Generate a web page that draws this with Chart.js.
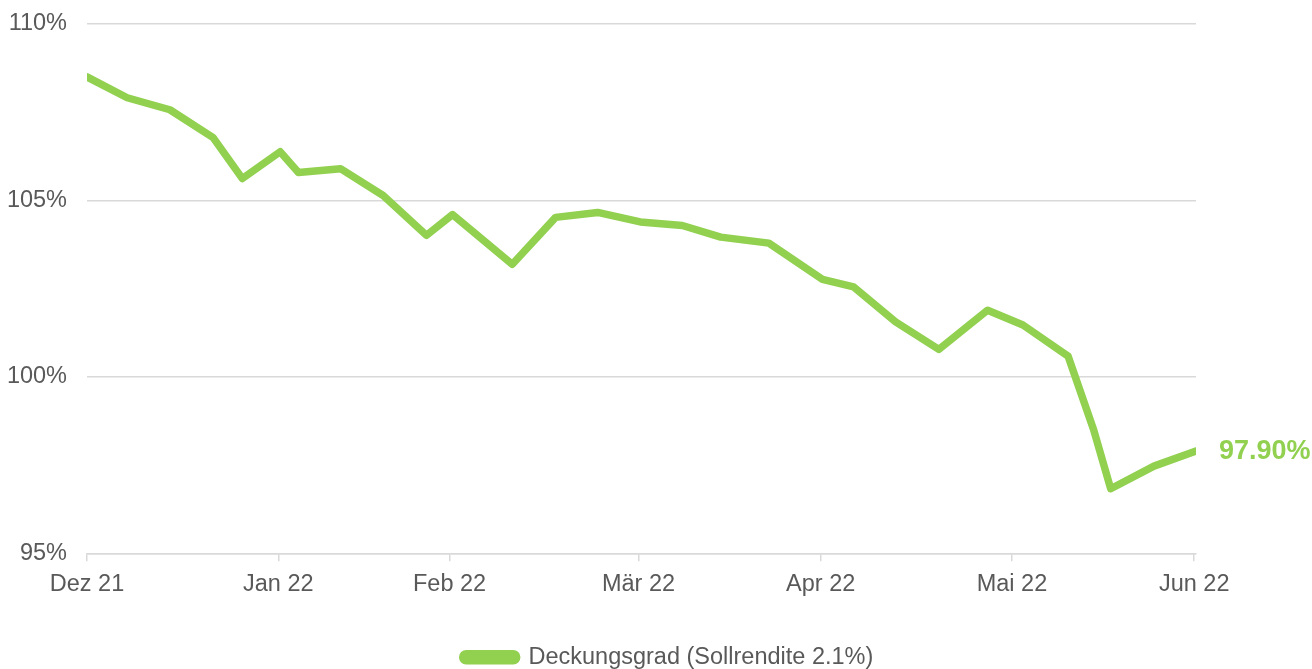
<!DOCTYPE html>
<html>
<head>
<meta charset="utf-8">
<script src="https://cdn.jsdelivr.net/npm/chart.js@4/dist/chart.umd.min.js"></script>
<style>
  html, body { margin: 0; padding: 0; background: #fff; overflow: hidden; }
  #wrap { width: 1312px; height: 679px; }
</style>
</head>
<body>
<div id="wrap"><canvas id="chart"></canvas></div>
<script>
// Day offsets from 1 Dec 2021
const days = [0, 6.6, 13.6, 20.7, 25.5, 31.7, 34.7, 41.6, 48.6, 55.7, 60, 69.8, 76.9, 83.8,
  90.8, 97.7, 104, 111.9, 120.7, 125.8, 132.7, 139.8, 147.8, 153.6, 161, 165.2, 168, 175.1, 182];
const coverage = [108.50, 107.91, 107.57, 106.78, 105.62, 106.38, 105.79, 105.90, 105.14, 104.01,
  104.60, 103.19, 104.52, 104.66, 104.39, 104.29, 103.96, 103.79, 102.76, 102.55, 101.56, 100.78,
  101.89, 101.47, 100.59, 98.50, 96.83, 97.47, 97.90];
const tickDays = [0, 31.4, 59.5, 90.5, 120.4, 151.8, 181.7];
const tickLabels = ['Dez 21', 'Jan 22', 'Feb 22', 'Mär 22', 'Apr 22', 'Mai 22', 'Jun 22'];
const yTicks = [95, 100, 105, 110];

const green = '#92D050';
const gray = '#595959';
const gridGray = '#d9d9d9';
const font = 'Liberation Sans, Arial, sans-serif';

// end-of-line value label
const endLabel = {
  id: 'endLabel',
  afterDatasetsDraw(chart) {
    const meta = chart.getDatasetMeta(0);
    const pt = meta.data[meta.data.length - 1];
    const ctx = chart.ctx;
    ctx.save();
    ctx.fillStyle = green;
    ctx.font = 'bold 27px ' + font;
    ctx.textAlign = 'left';
    ctx.textBaseline = 'middle';
    ctx.fillText(coverage[coverage.length - 1].toFixed(2) + '%', pt.x + 23, pt.y + 1);
    ctx.restore();
  }
};

new Chart(document.getElementById('chart'), {
  type: 'line',
  data: {
    datasets: [{
      label: 'Deckungsgrad (Sollrendite 2.1%)',
      data: days.map((d, i) => ({ x: d, y: coverage[i] })),
      borderColor: green,
      backgroundColor: green,
      borderWidth: 7.5,
      borderJoinStyle: 'round',
      borderCapStyle: 'round',
      pointRadius: 0,
      tension: 0
    }]
  },
  options: {
    responsive: true,
    maintainAspectRatio: false,
    animation: false,
    // negative right padding keeps the legend centred like the original
    layout: { padding: { top: 24, left: 0, right: -24, bottom: 0 } },
    plugins: {
      tooltip: { enabled: false },
      legend: {
        position: 'bottom',
        title: { display: true, text: '', font: { size: 10 }, padding: { top: 0, bottom: 16 } },
        labels: {
          color: gray,
          font: { family: font, size: 23.5 },
          boxWidth: 54,
          boxHeight: 7,
          useBorderRadius: true,
          borderRadius: 3.5,
          padding: 10
        }
      }
    },
    scales: {
      x: {
        type: 'linear',
        min: 0,
        max: 182,
        afterBuildTicks: s => { s.ticks = tickDays.map(v => ({ value: v })); },
        afterFit: s => { s.paddingLeft = 0; s.paddingRight = 0; },
        ticks: {
          color: gray,
          font: { family: font, size: 23.5 },
          padding: 9,
          maxRotation: 0,
          autoSkip: false,
          callback: (v, i) => tickLabels[i]
        },
        grid: { drawOnChartArea: false, color: gridGray, lineWidth: 1.5, tickLength: 8 },
        border: { color: gridGray, width: 1.5 }
      },
      y: {
        min: 95,
        max: 110,
        afterBuildTicks: s => { s.ticks = yTicks.map(v => ({ value: v })); },
        afterFit: s => { s.width = 87; s.paddingTop = 0; s.paddingBottom = 0; },
        ticks: {
          color: gray,
          font: { family: font, size: 23.5 },
          padding: 20,
          callback: v => v + '%'
        },
        grid: { color: gridGray, lineWidth: 1.5, drawTicks: false },
        border: { display: false }
      },
      yRight: {
        position: 'right',
        afterFit: s => { s.width = 140; s.paddingTop = 0; s.paddingBottom = 0; },
        ticks: { display: false },
        grid: { display: false },
        border: { display: false }
      }
    }
  },
  plugins: [endLabel]
});
</script>
</body>
</html>
